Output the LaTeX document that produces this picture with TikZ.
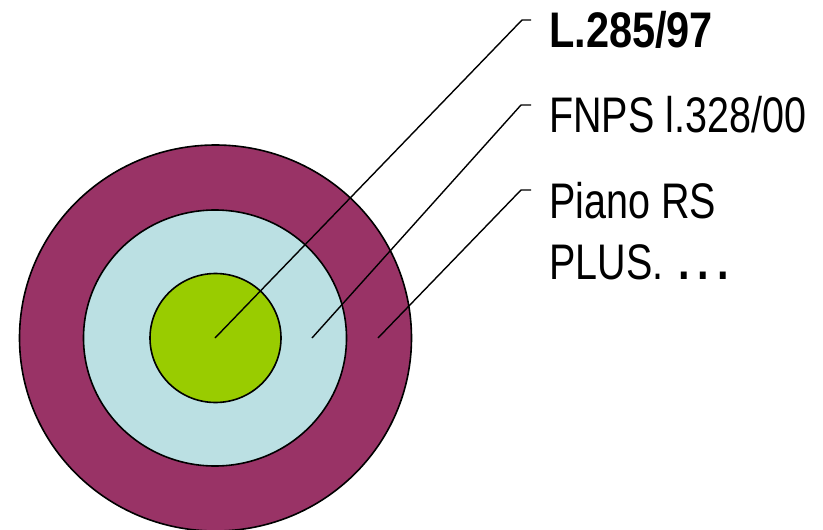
\documentclass[tikz,border=0pt]{standalone}
\usepackage{fontspec}
\setmainfont{Liberation Sans}[FakeStretch=0.79,BoldFeatures={FakeStretch=0.83}]
\usetikzlibrary{shapes.geometric}
\definecolor{ringouter}{HTML}{993366}
\definecolor{ringmid}{HTML}{BBE0E3}
\definecolor{ringinner}{HTML}{99CC00}
\begin{document}
\begin{tikzpicture}[x=1pt,y=-1pt,
  ring/.style={ellipse,draw=black,line width=1.6pt,inner sep=0pt},
  leader/.style={draw=black,line width=1.4pt},
  lab/.style={anchor=base west,inner sep=0pt,font=\fontsize{50}{61}\selectfont,align=left}]
\useasboundingbox (0,0) rectangle (823,530);
\node[ring,fill=ringouter,minimum width=392pt,minimum height=386pt] (outer) at (215.5,338) {};
\node[ring,fill=ringmid,minimum width=263pt,minimum height=256pt] (mid) at (215,338) {};
\node[ring,fill=ringinner,minimum width=131pt,minimum height=129pt] (inner) at (215.5,338) {};
\coordinate (pin) at (215,338);
\coordinate (pmid) at (312,338);
\coordinate (pout) at (378,338);
\node[lab] (l1) at (549,47) {\textbf{L.285/97}};
\node[lab] (l2) at (549,132) {FNPS l.328/00};
\node[lab,anchor=north west] (l3) at (549,182) {Piano RS\\PLUS.\hspace{4pt} \textbf{.\hspace{8pt}.\hspace{8pt}.}};
\coordinate (e1) at (522,20);
\coordinate (e2) at (521,105);
\coordinate (e3) at (521,190);
\draw[leader] (pin) -- (e1) -- (e1 -| 531,0);
\draw[leader] (pmid) -- (e2) -- (e2 -| 531,0);
\draw[leader] (pout) -- (e3) -- (e3 -| 531,0);
\end{tikzpicture}
\end{document}
